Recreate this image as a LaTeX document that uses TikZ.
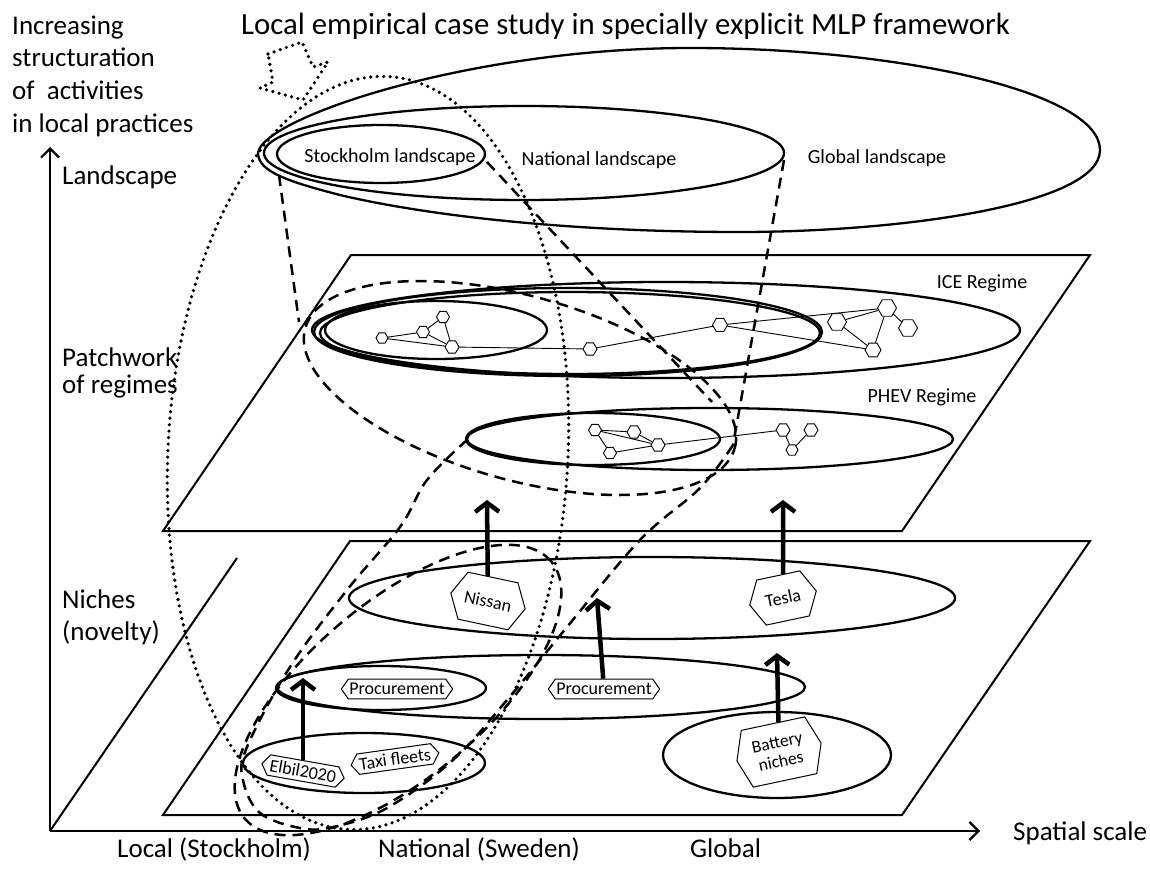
\documentclass[tikz,border=0pt]{standalone}
\usepackage{fontspec}
\setmainfont{Carlito}
\usetikzlibrary{arrows.meta,shapes.geometric,shapes.symbols}
\begin{document}
\begin{tikzpicture}[x=1pt,y=-1pt,
  myplane/.style={line width=2pt, line join=miter},
  myell/.style={draw, ellipse, line width=2.3pt, inner sep=0pt},
  mydash/.style={line width=2.5pt, dash pattern=on 11pt off 7pt},
  mydot/.style={line width=3.6pt, dash pattern=on 0pt off 6.5pt, line cap=round},
  mynet/.style={line width=0.9pt},
  myhex/.style={regular polygon, regular polygon sides=6, draw, line width=0.9pt, minimum size=#1, inner sep=0pt, fill=white},
  myhex/.default=14pt,
  mytag/.style={signal, signal to=west and east, signal pointer angle=110, draw, line width=1pt, fill=white, font=\fontsize{18}{20}\selectfont, inner xsep=1pt, inner ysep=4pt},
  myup/.style={line width=4.5pt, -{Straight Barb[length=9pt,width=24pt]}},
  myaxisarrow/.style={line width=2.2pt, -{Straight Barb[length=9pt,width=18pt]}},
  biglab/.style={font=\fontsize{27}{31}\selectfont, inner sep=0pt},
  inlab/.style={font=\fontsize{20}{23}\selectfont, inner sep=0pt},
]
\useasboundingbox (0,0) rectangle (1150,869);

% ---------- axes ----------
\coordinate (O) at (50,831);
\coordinate (ytip) at (50,147);
\coordinate (xtip) at (980,831);
\coordinate (dtop) at (237,558);
\draw[myaxisarrow] (O) -- (ytip);
\draw[myaxisarrow] (O) -- (xtip);
\draw[myplane] (O) -- (dtop);

% ---------- planes ----------
\coordinate (rBL) at (163,531); \coordinate (rTL) at (351,255);
\coordinate (rTR) at (1090,255); \coordinate (rBR) at (902,531);
\draw[myplane] (rBL) -- (rTL) -- (rTR) -- (rBR) -- cycle;
\coordinate (nBL) at (163,815); \coordinate (nTL) at (350,541);
\coordinate (nTR) at (1090,541); \coordinate (nBR) at (902,815);
\draw[myplane] (nBL) -- (nTL) -- (nTR) -- (nBR) -- cycle;

% ---------- landscape ----------
\draw[line width=2.3pt] (258,153) .. controls (262,118) and (470,48) .. (690,48)
  .. controls (900,48) and (1100,92) .. (1100,150)
  .. controls (1100,205) and (900,232) .. (740,232)
  .. controls (560,232) and (420,214) .. (340,195)
  .. controls (290,182) and (258,172) .. cycle;
\node[myell, minimum width=520pt, minimum height=94pt] (nat) at (524,153) {};
\node[myell, minimum width=208pt, minimum height=58pt] (sto) at (381,154) {};
\node[inlab] (stolab) at (390,157) {Stockholm landscape};
\node[inlab] (natlab) at (599,160) {National landscape};
\node[inlab] (globlab) at (877,158) {Global landscape};

% ---------- ICE regime ----------
\node[myell, minimum width=708pt, minimum height=96pt] (iceg) at (666,330) {};
\node[myell, minimum width=508pt, minimum height=88pt] (icen) at (568,332) {};
\node[myell, minimum width=500pt, minimum height=82pt] (icen2) at (570,333) {};
\node[myell, minimum width=222pt, minimum height=58pt] (ices) at (436,330) {};
\node[inlab] (icelab) at (982,283) {ICE Regime};

\node[myhex=12pt] (i1) at (382,338) {};
\node[myhex=13pt] (i2) at (423,332) {};
\node[myhex=13pt] (i3) at (443,317) {};
\node[myhex=14pt] (i4) at (452,347) {};
\node[myhex=14pt] (i5) at (590,349) {};
\node[myhex=15pt] (i6) at (720,325) {};
\node[myhex=19pt] (i7) at (837,322) {};
\node[myhex=19pt] (i8) at (887,308) {};
\node[myhex=16pt] (i9) at (873,350) {};
\node[myhex=19pt] (i10) at (908,328) {};
\draw[mynet] (i1) -- (i2); \draw[mynet] (i1) -- (i4);
\draw[mynet] (i2) -- (i3); \draw[mynet] (i3) -- (i4);
\draw[mynet] (i2) -- (i4); \draw[mynet] (i4) -- (i5);
\draw[mynet] (i5) -- (i6); \draw[mynet] (i6) -- (i8);
\draw[mynet] (i6) -- (i9); \draw[mynet] (i7) -- (i8);
\draw[mynet] (i7) -- (i9); \draw[mynet] (i8) -- (i9);
\draw[mynet] (i8) -- (i10);

% ---------- PHEV regime ----------
\node[myell, minimum width=486pt, minimum height=62pt] (phg) at (710,439) {};
\node[myell, minimum width=254pt, minimum height=52pt] (phn) at (593,439) {};
\node[inlab] (phevlab) at (922,397) {PHEV Regime};

\node[myhex=13pt] (p1) at (595,430) {};
\node[myhex=14pt] (p2) at (634,432) {};
\node[myhex=14pt] (p3) at (658,445) {};
\node[myhex=13pt] (p4) at (610,453) {};
\node[myhex=14pt] (p5) at (783,430) {};
\node[myhex=14pt] (p6) at (811,430) {};
\node[myhex=12pt] (p7) at (792,450) {};
\draw[mynet] (p1) -- (p2); \draw[mynet] (p1) -- (p3);
\draw[mynet] (p2) -- (p3); \draw[mynet] (p4) -- (p3);
\draw[mynet] (p1) -- (p4); \draw[mynet] (p3) -- (p5);
\draw[mynet] (p5) -- (p7); \draw[mynet] (p7) -- (p6);

% ---------- niches ----------
\node[myell, minimum width=606pt, minimum height=82pt] (ntop) at (652,598) {};
\node[myell, minimum width=528pt, minimum height=64pt] (nproc) at (541,687) {};
\node[myell, minimum width=210pt, minimum height=44pt] (nprocs) at (381,688) {};
\node[myell, minimum width=242pt, minimum height=60pt] (nloc) at (364,763) {};
\node[myell, minimum width=228pt, minimum height=86pt] (nbat) at (777,755) {};

% ---------- dashed tubes ----------
\node[draw, ellipse, mydash, inner sep=0pt, minimum width=446pt, minimum height=184pt, rotate=-15.6] (stoReg) at (520,388) {};
\node[draw, ellipse, mydash, inner sep=0pt, minimum width=400pt, minimum height=176pt, rotate=40] (stoNiche) at (398,690) {};
\coordinate (t1a) at (279,175); \coordinate (t1b) at (299,322);
\draw[mydash] (t1a) -- (t1b);
\coordinate (t1c) at (487,162); \coordinate (t1d) at (712,402);
\draw[mydash] (t1c) -- (t1d);
\coordinate (t2a) at (784,160); \coordinate (t2b) at (733,445);
\draw[mydash] (t2a) -- (t2b);
\draw[mydash] plot[smooth, tension=0.6] coordinates {(t2b) (700,488) (640,540) (567,627) (507,700) (453,760) (387,808) (333,827) (300,828) (260,813) (243,780) (247,747) (290,667) (347,590) (400,527) (427,480) (467,440)};

% ---------- tags ----------
\node[mytag, minimum height=48pt, minimum width=76pt, signal pointer angle=125, rotate=-12] (nissan) at (488,601) {Nissan};
\node[mytag, minimum height=46pt, minimum width=68pt, signal pointer angle=125, rotate=12] (tesla) at (783,598) {Tesla};
\node[mytag] (proc1) at (397,689) {Procurement};
\node[mytag] (proc2) at (604,689) {Procurement};
\node[mytag, rotate=-10] (elbil) at (303,771) {Elbil2020};
\node[mytag, rotate=8] (taxi) at (395,759) {Taxi fleets};
\node[mytag, align=center, signal pointer angle=140, inner ysep=3pt, inner xsep=4pt, minimum width=86pt, minimum height=58pt, font=\fontsize{17.5}{19}\selectfont, rotate=12] (battery) at (779,752) {Battery\\niches};

% ---------- upward arrows ----------
\coordinate (tipN) at (487,500);
\coordinate (tipT) at (783,500);
\coordinate (tipP) at (597,598);
\coordinate (tipE) at (303,678);
\coordinate (tipB) at (777,653);
\draw[myup] (nissan) -- (tipN);
\draw[myup] (tesla) -- (tipT);
\draw[myup] (proc2) -- (tipP);
\draw[myup] (elbil) -- (tipE);
\draw[myup] (battery) -- (tipB);

% ---------- dotted case-study ellipse and arrow ----------
\node[draw, ellipse, mydot, inner sep=0pt, minimum width=400pt, minimum height=754pt, rotate=-3] (case) at (368,453) {};
\draw[mydot] (268,54) -- (302,42) -- (313,67) -- (328,62) -- (303,100) -- (260,88) -- (273,82) -- cycle;

% ---------- texts ----------
\node[font=\fontsize{30.8}{34}\selectfont, inner sep=0pt, anchor=base west] (title) at (241,35) {Local empirical case study in specially explicit MLP framework};
\node[biglab, anchor=base west] (l1) at (12,35) {Increasing};
\node[biglab, anchor=base west] (l2) at (12,67) {structuration};
\node[biglab, anchor=base west] (l3) at (12,100) {of\ \ activities};
\node[biglab, anchor=base west] (l4) at (12,133) {in local practices};
\node[biglab, anchor=base west] (land) at (62,185) {Landscape};
\node[biglab, anchor=base west] (patch1) at (62,366) {Patchwork};
\node[biglab, anchor=base west] (patch2) at (62,393) {of regimes};
\node[biglab, anchor=base west] (nich1) at (62,608) {Niches};
\node[biglab, anchor=base west] (nich2) at (62,640) {(novelty)};
\node[biglab, anchor=base west] (spatial) at (1013,840) {Spatial scale};
\node[biglab, anchor=base west] (loc) at (117,857) {Local (Stockholm)};
\node[biglab, anchor=base west] (natl) at (378,857) {National (Sweden)};
\node[biglab, anchor=base west] (glo) at (690,857) {Global};
\end{tikzpicture}
\end{document}
